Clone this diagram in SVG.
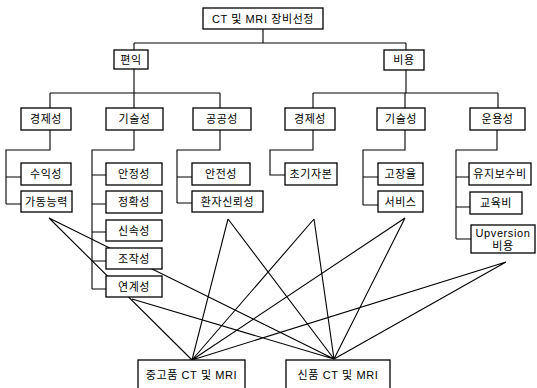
<svg xmlns="http://www.w3.org/2000/svg" width="537" height="388" viewBox="0 0 537 388">
<style>
.b{fill:#fff;stroke:#000;stroke-width:1.3}
.c{fill:none;stroke:#000;stroke-width:1.1}
text{font-family:"Liberation Sans","Noto Sans CJK KR",sans-serif;font-size:11px;fill:#000;text-anchor:middle;letter-spacing:0.6px}
</style>
<rect width="537" height="388" fill="#fff"/>
<g id="connectors">
<path class="c" d="M263,29V43M134,43H406M134,43V50M406,43V50M134,69V93M50,93H220M50,93V108M134,93V108M220,93V108M406,70V93M313,93H498M313,93V108M405,93V108M498,93V108"/>
<path class="c" d="M50,130V150H6V204M6,177H21M6,204H21M134,130V150H92V289M92,175H106M92,204H106M92,232H106M92,261H106M92,289H106M220,130V150H177V203M177,177H192M177,203H192"/>
<path class="c" d="M313,130V150H270V175H285M405,130V150H363V205M363,177H378M363,205H378M497,130V150H456V239M456,177H469M456,207H470M456,239H471"/>
<path class="c" d="M49,218L192,360M49,218L334,359M132,299L334,359M228,219L192,360M228,219L334,359M314,219L192,360M314,219L334,359M405,218L192,360M405,218L334,359M506,262L192,360M506,262L334,359"/>
</g>
<g id="root"><rect class="b" x="203" y="8" width="120" height="21"/><text x="263" y="23" font-size="12">CT 및 MRI 장비선정</text></g>
<g id="benefit"><rect class="b" x="114" y="50" width="34" height="19"/><text x="131" y="64">편익</text></g>
<g id="cost"><rect class="b" x="384" y="50" width="40" height="20"/><text x="404" y="64">비용</text></g>
<g id="b-econ"><rect class="b" x="21" y="108" width="50" height="22"/><text x="46" y="123">경제성</text></g>
<g id="b-tech"><rect class="b" x="106" y="108" width="57" height="22"/><text x="134.5" y="123">기술성</text></g>
<g id="b-public"><rect class="b" x="193" y="108" width="58" height="22"/><text x="222" y="123">공공성</text></g>
<g id="c-econ"><rect class="b" x="285" y="108" width="50" height="22"/><text x="310" y="123">경제성</text></g>
<g id="c-tech"><rect class="b" x="377" y="108" width="48" height="22"/><text x="401" y="123">기술성</text></g>
<g id="c-oper"><rect class="b" x="470" y="108" width="55" height="22"/><text x="497.5" y="123">운용성</text></g>
<g id="profit"><rect class="b" x="21" y="163" width="50" height="22"/><text x="46" y="178">수익성</text></g>
<g id="capacity"><rect class="b" x="21" y="191" width="51" height="21"/><text x="46.5" y="205.5">가동능력</text></g>
<g id="stability"><rect class="b" x="106" y="163" width="56" height="22"/><text x="134" y="178">안정성</text></g>
<g id="accuracy"><rect class="b" x="106" y="191" width="56" height="22"/><text x="134" y="206">정확성</text></g>
<g id="speed"><rect class="b" x="106" y="220" width="56" height="21"/><text x="134" y="234.5">신속성</text></g>
<g id="operability"><rect class="b" x="106" y="248" width="56" height="21"/><text x="134" y="262.5">조작성</text></g>
<g id="linkage"><rect class="b" x="106" y="276" width="56" height="21"/><text x="134" y="290.5">연계성</text></g>
<g id="safety"><rect class="b" x="192" y="163" width="58" height="22"/><text x="221" y="178">안전성</text></g>
<g id="trust"><rect class="b" x="192" y="191" width="71" height="21"/><text x="227.5" y="205.5">환자신뢰성</text></g>
<g id="capital"><rect class="b" x="285" y="163" width="52" height="22"/><text x="311" y="178">초기자본</text></g>
<g id="failure"><rect class="b" x="378" y="163" width="45" height="22"/><text x="400.5" y="178">고장율</text></g>
<g id="service"><rect class="b" x="378" y="191" width="45" height="21"/><text x="400.5" y="205.5">서비스</text></g>
<g id="maint"><rect class="b" x="469" y="163" width="62" height="22"/><text x="500" y="178">유지보수비</text></g>
<g id="edu"><rect class="b" x="470" y="192" width="52" height="22"/><text x="496" y="207">교육비</text></g>
<g id="upversion"><rect class="b" x="471" y="225" width="64" height="28"/><text x="503" y="237" letter-spacing="0.3">Upversion</text><text x="503" y="250">비용</text></g>
<g id="used"><rect class="b" x="138" y="360" width="107" height="32"/><text x="191.5" y="379" letter-spacing="0.3">중고품 CT 및 MRI</text></g>
<g id="new"><rect class="b" x="286" y="360" width="104" height="32"/><text x="338" y="379" letter-spacing="0.3">신품 CT 및 MRI</text></g>
</svg>
